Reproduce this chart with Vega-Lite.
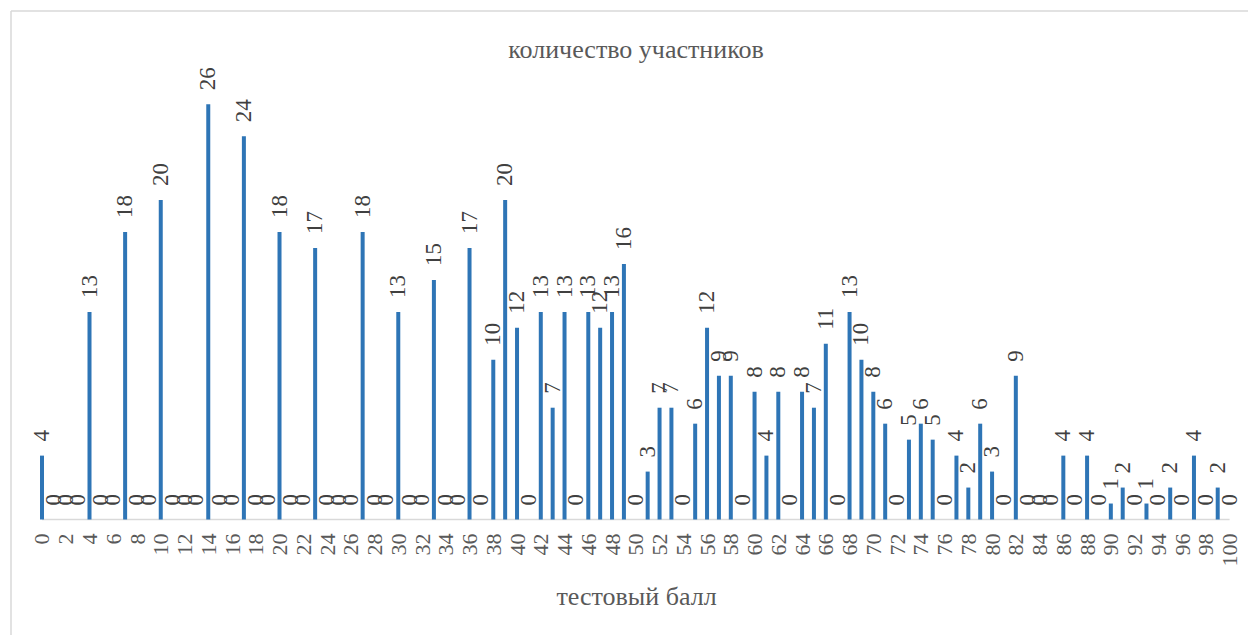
{
  "$schema": "https://vega.github.io/schema/vega-lite/v6.json",
  "width": 1237,
  "height": 624,
  "autosize": "none",
  "padding": {"left": 11, "top": 11, "right": 0, "bottom": 0},
  "background": "white",
  "config": {
    "view": {"stroke": null},
    "font": "Liberation Serif"
  },
  "title": {
    "text": "количество участников",
    "anchor": "middle",
    "frame": "group",
    "offset": 0,
    "dx": 6.5,
    "dy": 74,
    "baseline": "alphabetic",
    "font": "Liberation Serif",
    "fontSize": 26,
    "fontWeight": "normal",
    "color": "#595959"
  },
  "data": {
    "values": [
      {"score": 0, "count": 4}, {"score": 1, "count": 0}, {"score": 2, "count": 0}, {"score": 3, "count": 0},
      {"score": 4, "count": 13}, {"score": 5, "count": 0}, {"score": 6, "count": 0}, {"score": 7, "count": 18},
      {"score": 8, "count": 0}, {"score": 9, "count": 0}, {"score": 10, "count": 20}, {"score": 11, "count": 0},
      {"score": 12, "count": 0}, {"score": 13, "count": 0}, {"score": 14, "count": 26}, {"score": 15, "count": 0},
      {"score": 16, "count": 0}, {"score": 17, "count": 24}, {"score": 18, "count": 0}, {"score": 19, "count": 0},
      {"score": 20, "count": 18}, {"score": 21, "count": 0}, {"score": 22, "count": 0}, {"score": 23, "count": 17},
      {"score": 24, "count": 0}, {"score": 25, "count": 0}, {"score": 26, "count": 0}, {"score": 27, "count": 18},
      {"score": 28, "count": 0}, {"score": 29, "count": 0}, {"score": 30, "count": 13}, {"score": 31, "count": 0},
      {"score": 32, "count": 0}, {"score": 33, "count": 15}, {"score": 34, "count": 0}, {"score": 35, "count": 0},
      {"score": 36, "count": 17}, {"score": 37, "count": 0}, {"score": 38, "count": 10}, {"score": 39, "count": 20},
      {"score": 40, "count": 12}, {"score": 41, "count": 0}, {"score": 42, "count": 13}, {"score": 43, "count": 7},
      {"score": 44, "count": 13}, {"score": 45, "count": 0}, {"score": 46, "count": 13}, {"score": 47, "count": 12},
      {"score": 48, "count": 13}, {"score": 49, "count": 16}, {"score": 50, "count": 0}, {"score": 51, "count": 3},
      {"score": 52, "count": 7}, {"score": 53, "count": 7}, {"score": 54, "count": 0}, {"score": 55, "count": 6},
      {"score": 56, "count": 12}, {"score": 57, "count": 9}, {"score": 58, "count": 9}, {"score": 59, "count": 0},
      {"score": 60, "count": 8}, {"score": 61, "count": 4}, {"score": 62, "count": 8}, {"score": 63, "count": 0},
      {"score": 64, "count": 8}, {"score": 65, "count": 7}, {"score": 66, "count": 11}, {"score": 67, "count": 0},
      {"score": 68, "count": 13}, {"score": 69, "count": 10}, {"score": 70, "count": 8}, {"score": 71, "count": 6},
      {"score": 72, "count": 0}, {"score": 73, "count": 5}, {"score": 74, "count": 6}, {"score": 75, "count": 5},
      {"score": 76, "count": 0}, {"score": 77, "count": 4}, {"score": 78, "count": 2}, {"score": 79, "count": 6},
      {"score": 80, "count": 3}, {"score": 81, "count": 0}, {"score": 82, "count": 9}, {"score": 83, "count": 0},
      {"score": 84, "count": 0}, {"score": 85, "count": 0}, {"score": 86, "count": 4}, {"score": 87, "count": 0},
      {"score": 88, "count": 4}, {"score": 89, "count": 0}, {"score": 90, "count": 1}, {"score": 91, "count": 2},
      {"score": 92, "count": 0}, {"score": 93, "count": 1}, {"score": 94, "count": 0}, {"score": 95, "count": 2},
      {"score": 96, "count": 0}, {"score": 97, "count": 4}, {"score": 98, "count": 0}, {"score": 99, "count": 2},
      {"score": 100, "count": 0}
    ]
  },
  "encoding": {
    "x": {
      "field": "score",
      "type": "quantitative",
      "scale": {"domain": [-2.61, 101.55], "nice": false, "zero": false, "padding": 0},
      "axis": {
        "values": [0, 2, 4, 6, 8, 10, 12, 14, 16, 18, 20, 22, 24, 26, 28, 30, 32, 34, 36, 38, 40, 42, 44, 46, 48, 50, 52, 54, 56, 58, 60, 62, 64, 66, 68, 70, 72, 74, 76, 78, 80, 82, 84, 86, 88, 90, 92, 94, 96, 98, 100],
        "format": "d",
        "offset": -104,
        "domain": false,
        "ticks": false,
        "grid": false,
        "labelAngle": 270,
        "labelAlign": "right",
        "labelBaseline": "middle",
        "labelPadding": 2,
        "labelFont": "Liberation Serif",
        "labelFontSize": 22,
        "labelColor": "#595959",
        "labelOverlap": false,
        "labelFlush": false,
        "title": "тестовый балл",
        "titleFont": "Liberation Serif",
        "titleFontSize": 26,
        "titleFontWeight": "normal",
        "titleColor": "#595959",
        "titleAlign": "center",
        "titleBaseline": "alphabetic",
        "titleX": 625,
        "titleY": 73
      }
    },
    "y": {
      "field": "count",
      "type": "quantitative",
      "scale": {"domain": [-7.232, 31.84], "nice": false, "zero": false},
      "axis": null
    }
  },
  "layer": [
    {
      "data": {"values": [
        {"score": -2.61, "score_end": -2.61, "count": -7.232, "count_end": 31.84},
        {"score": -2.61, "score_end": 101.55, "count": 31.84, "count_end": 31.84}
      ]},
      "mark": {"type": "rule", "color": "#d9d9d9", "strokeWidth": 1.5},
      "encoding": {
        "x2": {"field": "score_end"},
        "y2": {"field": "count_end"}
      }
    },
    {
      "data": {"values": [{"score": 0, "score_end": 100, "count": 0}]},
      "mark": {"type": "rule", "color": "#d9d9d9", "strokeWidth": 1.5},
      "encoding": {
        "x2": {"field": "score_end"}
      }
    },
    {
      "mark": {"type": "bar", "size": 4, "color": "#2E75B6"},
      "encoding": {
        "y2": {"datum": 0}
      }
    },
    {
      "mark": {
        "type": "text",
        "angle": 270,
        "align": "left",
        "baseline": "middle",
        "dx": 14,
        "font": "Liberation Serif",
        "fontSize": 23,
        "color": "#404040"
      },
      "encoding": {
        "text": {"field": "count", "type": "quantitative"}
      }
    }
  ]
}
